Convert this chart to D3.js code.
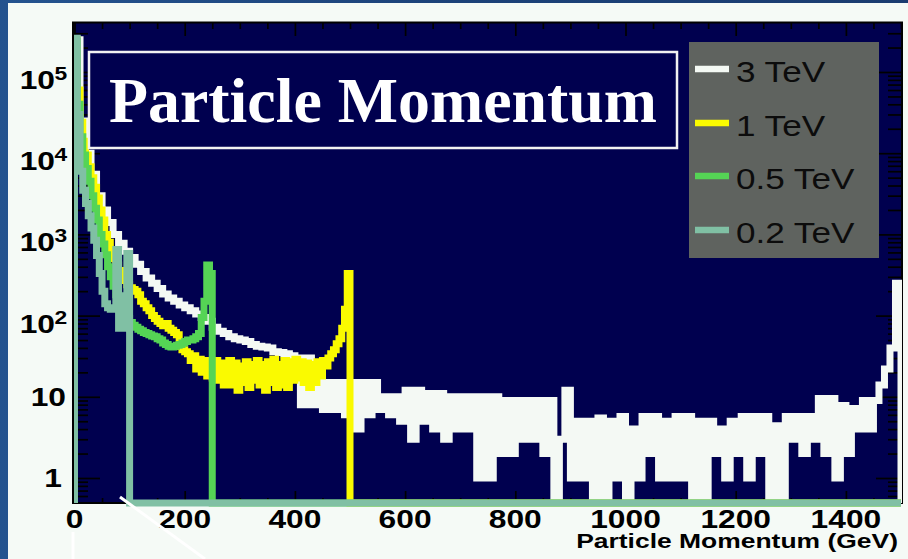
<!DOCTYPE html>
<html>
<head>
<meta charset="utf-8">
<script src="https://cdn.jsdelivr.net/npm/d3@7"></script>
<style>
  html, body { margin: 0; padding: 0; background: #f5faf6; }
  svg { display: block; }
</style>
</head>
<body>
<svg id="chart" width="908" height="559"></svg>
<script>
// ---- Data: momentum spectra (entries per bin), histogram axis 0-1500 GeV ----
const xMax = 1500;
const seriesNames = ["3 TeV", "1 TeV", "0.5 TeV", "0.2 TeV"];
const seriesColors = ["#f4f9f4", "#fafa00", "#55d455", "#80c0a4"];

// 3 TeV, 10 GeV bins from 0 to 1500
const bin3TeV = 10;
const counts3TeV = [
  2.5e5, 2.5e4, 1.0e4, 5500, 3000, 2000, 1400, 1000, 780, 620,
  520, 430, 350, 290, 250, 215, 185, 165, 150, 135,
  125, 115, 105, 95, 85, 72, 64, 60, 55, 52,
  50, 48, 44, 42, 41, 40, 36, 35, 34, 32,
  30, 8, 30, 8, 26, 7, 15, 7, 15, 6,
  15, 4, 15, 6, 15, 7, 10, 6, 10, 5,
  12, 3, 12, 5, 11, 4, 11, 3, 10, 4,
  10, 4, 10, 1, 10, 1, 10, 2, 9, 2,
  9, 3, 9, 3, 9, 2, 9, 0, 3, 12,
  1, 5, 1, 5, 0, 5.5, 0, 5, 1, 5.7,
  0, 4, 1, 5.7, 2, 5.7, 1, 5, 1, 5.7,
  1, 5.7, 0, 5, 0, 5, 2, 4, 1, 5,
  2, 5.7, 1, 5.7, 2, 5.7, 0, 4.4, 0, 5.7,
  3, 5.7, 2, 5.7, 3, 9.5, 2, 9.5, 1, 7.8,
  2, 7.2, 4, 9, 4, 9, 14, 22, 40, 250
];

// 1 TeV, 5 GeV bins from 0 to 500
const bin1TeV = 5;
const counts1TeV = [
  2.5e5, 6e4, 2.4e4, 1.4e4, 9500, 6800, 5000, 3800, 2800, 2000,
  1500, 1000, 800, 620, 500, 420, 360, 310, 270, 240,
  220, 210, 200, 180, 150, 140, 125, 115, 100, 92,
  85, 80, 75, 80, 70, 66, 62, 58, 42, 38,
  36, 34, 28, 32, 22, 29, 20, 28, 18, 27,
  17, 28, 16, 26, 14, 24, 28, 14, 26, 12,
  24, 15, 27, 13, 25, 16, 28, 14, 25, 12,
  27, 15, 29, 13, 25, 14, 28, 13, 27, 16,
  29, 17, 27, 15, 26, 13, 25, 15, 27, 18,
  28, 24, 30, 34, 38, 45, 52, 70, 120, 330
];

// 0.5 TeV, 5 GeV bins from 0 to 250
const bin05TeV = 5;
const counts05TeV = [
  2.4e5, 4e4, 1.6e4, 9500, 6500, 4500, 3000, 2100, 1500, 1000,
  760, 560, 400, 300, 230, 180, 150, 125, 105, 92,
  82, 76, 72, 68, 65, 62, 60, 58, 56, 55,
  52, 50, 46, 44, 42, 41, 42, 43, 44, 46,
  48, 50, 50, 52, 55, 60, 95, 150, 420, 330
];

// 0.2 TeV, 5 GeV bins from 0 to 100
const bin02TeV = 5;
const counts02TeV = [
  2.6e5, 3.0e4, 6000, 3500, 2400, 1700, 1200, 850, 550, 330,
  200, 140, 125, 120, 120, 650, 70, 175, 70, 580
];

// Axis ticks and labels
const xLabelTicks = [0, 200, 400, 600, 800, 1000, 1200, 1400];
const xMinorTicks = d3.range(0, 1501, 50);
const yDecades = [1, 10, 100, 1000, 1e4, 1e5];
const yDecadeLabels = [["1", ""], ["10", ""], ["10", "2"], ["10", "3"], ["10", "4"], ["10", "5"]];
const yMinorTicks = [];
[0.1, 1, 10, 100, 1000, 1e4, 1e5].forEach(d => {
  for (let m = 2; m <= 9; m++) yMinorTicks.push(m * d);
});
const xTitle = "Particle Momentum (GeV)";
const chartTitle = "Particle Momentum";

// ---- Layout ----
const W = 908, H = 559;
const frame = { x0: 74, x1: 902, y0: 23, y1: 503 };
const svg = d3.select("#chart");
const defs = svg.append("defs");

const bgGrad = defs.append("linearGradient").attr("id", "bg")
  .attr("x1", "0").attr("y1", "0").attr("x2", "1").attr("y2", "0");
bgGrad.append("stop").attr("offset", "0").attr("stop-color", "#24538f");
bgGrad.append("stop").attr("offset", "0.5").attr("stop-color", "#1c4279");
bgGrad.append("stop").attr("offset", "1").attr("stop-color", "#1a3c70");

defs.append("clipPath").attr("id", "plotClip")
  .append("rect")
  .attr("x", frame.x0).attr("y", frame.y0)
  .attr("width", frame.x1 - frame.x0).attr("height", frame.y1 - frame.y0 + 5);

svg.append("rect").attr("width", W).attr("height", H).attr("fill", "url(#bg)");
svg.append("rect").attr("x", 8).attr("y", 3).attr("width", W - 8).attr("height", H - 3)
  .attr("fill", "#f5faf6");

// scales
const x = d3.scaleLinear().domain([0, xMax]).range([74.5, 901]);
const y = d3.scaleLog().domain([1, 1e5]).range([478, 72]);

// plot frame background
svg.append("rect")
  .attr("x", frame.x0).attr("y", frame.y0)
  .attr("width", frame.x1 - frame.x0).attr("height", frame.y1 - frame.y0)
  .attr("fill", "#00004f");

// ---- Axes (tick marks) ----
function tickAxis(axis, transform) {
  const g = svg.append("g").attr("transform", transform).call(axis);
  g.select(".domain").remove();
  g.selectAll("text").remove();
  g.selectAll("line").attr("stroke", "#000").attr("stroke-width", 1.7);
  return g;
}
const inRangeY = v => y(v) > frame.y0 + 1 && y(v) < frame.y1 - 1;
const yMinorIn = yMinorTicks.filter(inRangeY);

// left axis: ticks pointing into the frame
tickAxis(d3.axisRight(y).tickValues(yDecades).tickSize(26).tickSizeOuter(0), `translate(${frame.x0},0)`);
tickAxis(d3.axisRight(y).tickValues(yMinorIn).tickSize(14).tickSizeOuter(0), `translate(${frame.x0},0)`);
// right axis
tickAxis(d3.axisLeft(y).tickValues(yDecades).tickSize(26).tickSizeOuter(0), `translate(${frame.x1},0)`);
tickAxis(d3.axisLeft(y).tickValues(yMinorIn).tickSize(14).tickSizeOuter(0), `translate(${frame.x1},0)`);
// bottom axis
tickAxis(d3.axisTop(x).tickValues(xMinorTicks.filter(v => v % 200 !== 0)).tickSize(5).tickSizeOuter(0), `translate(0,${frame.y1})`);
tickAxis(d3.axisTop(x).tickValues(xLabelTicks).tickSize(12).tickSizeOuter(0), `translate(0,${frame.y1})`);
// top axis
tickAxis(d3.axisBottom(x).tickValues(xMinorTicks.filter(v => v % 200 !== 0)).tickSize(6).tickSizeOuter(0), `translate(0,${frame.y0})`);
tickAxis(d3.axisBottom(x).tickValues(xLabelTicks).tickSize(13).tickSizeOuter(0), `translate(0,${frame.y0})`);

// frame outline
svg.append("rect")
  .attr("x", frame.x0 - 1).attr("y", frame.y0 - 0.5)
  .attr("width", frame.x1 - frame.x0 + 1).attr("height", frame.y1 - frame.y0 + 0.5)
  .attr("fill", "none").attr("stroke", "#000").attr("stroke-width", 2);

// ---- Histograms ----
function histPoints(counts, binW) {
  const yOf = v => (v > 0 ? y(v) : frame.y1);
  const pts = [[x(0), frame.y1]];
  counts.forEach((v, i) => {
    pts.push([x(i * binW), yOf(v)]);
    pts.push([x((i + 1) * binW), yOf(v)]);
  });
  const end = counts.length * binW;
  pts.push([x(end), frame.y1]);
  if (end < xMax) pts.push([x(xMax), frame.y1]);
  return pts;
}
const histSeries = [
  { counts: counts3TeV, bin: bin3TeV, color: seriesColors[0] },
  { counts: counts1TeV, bin: bin1TeV, color: seriesColors[1] },
  { counts: counts05TeV, bin: bin05TeV, color: seriesColors[2] },
  { counts: counts02TeV, bin: bin02TeV, color: seriesColors[3] }
];
const line = d3.line();
const plotG = svg.append("g").attr("clip-path", "url(#plotClip)");
plotG.selectAll("path.hist")
  .data(histSeries)
  .join("path")
  .attr("class", "hist")
  .attr("d", d => line(histPoints(d.counts, d.bin)))
  .attr("fill", "none")
  .attr("stroke", d => d.color)
  .attr("stroke-width", 7)
  .attr("stroke-linejoin", "miter")
  .attr("stroke-linecap", "butt");

// ---- Tick labels ----
const labelFont = "'Liberation Sans', Arial, Helvetica, sans-serif";
const stretch = 1.27;
svg.append("g").selectAll("text")
  .data(xLabelTicks)
  .join("text")
  .attr("transform", d => `translate(${x(d)},528) scale(${stretch},1)`)
  .attr("text-anchor", "middle")
  .attr("font-family", labelFont).attr("font-weight", "bold").attr("font-size", 25)
  .attr("fill", "#000")
  .text(d => d);

const yLab = svg.append("g");
yDecades.forEach((v, i) => {
  const [base, exp] = yDecadeLabels[i];
  const ty = y(v);
  if (!exp) {
    yLab.append("text")
      .attr("transform", `translate(${base === "1" ? 62 : 66},${ty + 9}) scale(${stretch},1)`)
      .attr("text-anchor", "end")
      .attr("font-family", labelFont).attr("font-weight", "bold").attr("font-size", 25)
      .attr("fill", "#000").text(base);
  } else {
    yLab.append("text")
      .attr("transform", `translate(55,${ty + 17}) scale(${stretch},1)`)
      .attr("text-anchor", "end")
      .attr("font-family", labelFont).attr("font-weight", "bold").attr("font-size", 25)
      .attr("fill", "#000").text(base);
    yLab.append("text")
      .attr("transform", `translate(54.5,${ty + 8}) scale(${stretch},1)`)
      .attr("text-anchor", "start")
      .attr("font-family", labelFont).attr("font-weight", "bold").attr("font-size", 18)
      .attr("fill", "#000").text(exp);
  }
});

// axis title
svg.append("text")
  .attr("transform", `translate(898,548) scale(1.26,1)`)
  .attr("text-anchor", "end")
  .attr("font-family", labelFont).attr("font-weight", "bold").attr("font-size", 21)
  .attr("fill", "#000")
  .text(xTitle);

// ---- Title box ----
svg.append("rect")
  .attr("x", 89).attr("y", 52).attr("width", 588).attr("height", 96)
  .attr("fill", "#00004f").attr("stroke", "#f2f2f2").attr("stroke-width", 2.5);
svg.append("text")
  .attr("x", 109).attr("y", 122)
  .attr("textLength", 548).attr("lengthAdjust", "spacingAndGlyphs")
  .attr("font-family", "'Liberation Serif', 'Times New Roman', serif")
  .attr("font-weight", "bold").attr("font-size", 63)
  .attr("fill", "#ffffff")
  .text(chartTitle);

// ---- Legend ----
const legend = svg.append("g");
legend.append("rect")
  .attr("x", 689).attr("y", 42).attr("width", 190).attr("height", 216)
  .attr("fill", "#5f635f");
const legendRows = [69, 123, 176, 230];
seriesNames.forEach((name, i) => {
  legend.append("line")
    .attr("x1", 695).attr("x2", 729)
    .attr("y1", legendRows[i]).attr("y2", legendRows[i])
    .attr("stroke", seriesColors[i]).attr("stroke-width", 6.5);
  legend.append("text")
    .attr("transform", `translate(736,${legendRows[i] + 13}) scale(1.17,1)`)
    .attr("font-family", labelFont).attr("font-size", 30)
    .attr("fill", "#0c0c0c")
    .text(name);
});

// ---- pointer strokes on the slide ----
svg.append("line").attr("x1", 120).attr("y1", 497).attr("x2", 205).attr("y2", 559)
  .attr("stroke", "#ffffff").attr("stroke-width", 3);
svg.append("line").attr("x1", 73).attr("y1", 532).attr("x2", 73).attr("y2", 559)
  .attr("stroke", "#ffffff").attr("stroke-width", 3);
</script>
</body>
</html>
